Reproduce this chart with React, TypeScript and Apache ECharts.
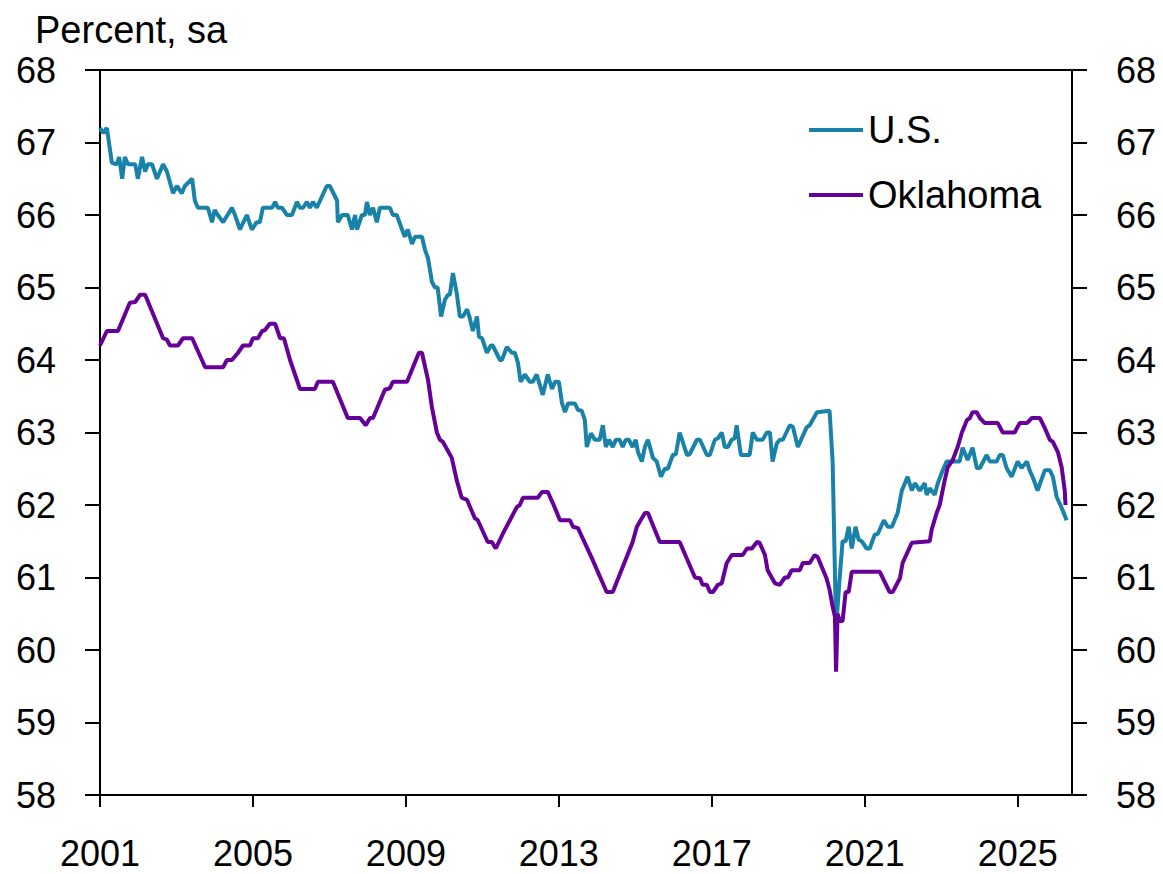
import React, { useEffect, useRef } from "react";
import * as echarts from "echarts";

// x = decimal year, y = participation rate (percent, sa)
const usYears = [2001.0,2001.08,2001.18,2001.31,2001.44,2001.5,2001.58,2001.65,2001.73,2001.92,2001.99,2002.1,2002.18,2002.25,2002.36,2002.49,2002.65,2002.75,2002.91,2003.01,2003.14,2003.22,2003.41,2003.48,2003.56,2003.82,2003.93,2004.0,2004.08,2004.22,2004.45,2004.53,2004.66,2004.84,2004.97,2005.1,2005.18,2005.26,2005.5,2005.58,2005.65,2005.76,2005.89,2006.02,2006.15,2006.23,2006.31,2006.41,2006.49,2006.57,2006.67,2006.93,2007.01,2007.2,2007.22,2007.33,2007.48,2007.59,2007.67,2007.72,2007.85,2007.93,2007.98,2008.06,2008.14,2008.24,2008.32,2008.58,2008.66,2008.76,2008.97,2009.05,2009.16,2009.24,2009.42,2009.5,2009.58,2009.68,2009.76,2009.83,2009.92,2010.02,2010.1,2010.15,2010.23,2010.33,2010.41,2010.49,2010.6,2010.67,2010.75,2010.86,2010.91,2010.99,2011.12,2011.22,2011.27,2011.46,2011.51,2011.64,2011.77,2011.85,2011.93,2012.0,2012.11,2012.24,2012.32,2012.42,2012.58,2012.71,2012.82,2012.9,2013.0,2013.08,2013.16,2013.24,2013.42,2013.5,2013.6,2013.68,2013.73,2013.84,2013.94,2014.07,2014.15,2014.23,2014.31,2014.41,2014.49,2014.59,2014.67,2014.75,2014.83,2014.93,2015.01,2015.07,2015.17,2015.25,2015.33,2015.46,2015.56,2015.67,2015.77,2015.85,2015.98,2016.06,2016.16,2016.35,2016.42,2016.61,2016.69,2016.87,2016.95,2017.08,2017.16,2017.26,2017.34,2017.42,2017.52,2017.6,2017.65,2017.76,2017.99,2018.07,2018.18,2018.33,2018.44,2018.52,2018.59,2018.7,2018.78,2018.86,2019.04,2019.12,2019.25,2019.48,2019.56,2019.75,2020.08,2020.16,2020.25,2020.33,2020.42,2020.5,2020.58,2020.66,2020.76,2020.84,2020.92,2021.05,2021.13,2021.26,2021.34,2021.5,2021.6,2021.71,2021.86,2021.97,2022.12,2022.23,2022.31,2022.44,2022.57,2022.62,2022.7,2022.83,2022.91,2023.04,2023.14,2023.48,2023.56,2023.69,2023.82,2023.93,2024.01,2024.19,2024.27,2024.45,2024.53,2024.61,2024.71,2024.84,2025.0,2025.1,2025.24,2025.31,2025.39,2025.52,2025.71,2025.84,2025.92,2026.02,2026.15,2026.28];
const usValues = [67.2,67.13,67.2,66.72,66.7,66.8,66.5,66.8,66.7,66.7,66.5,66.8,66.6,66.7,66.7,66.5,66.7,66.6,66.3,66.4,66.3,66.4,66.5,66.2,66.1,66.1,65.9,66.07,66.0,65.9,66.1,66.0,65.8,66.0,65.8,65.9,65.9,66.1,66.1,66.18,66.1,66.1,66.0,66.0,66.18,66.1,66.1,66.18,66.1,66.18,66.1,66.4,66.4,66.2,65.9,66.0,66.0,65.8,66.0,65.8,66.0,66.0,66.18,66.0,66.1,65.9,66.1,66.1,66.0,66.0,65.7,65.8,65.6,65.7,65.7,65.52,65.4,65.08,65.0,65.0,64.6,64.83,64.9,64.9,65.2,64.92,64.6,64.6,64.7,64.58,64.4,64.6,64.32,64.3,64.1,64.2,64.2,64.0,64.0,64.18,64.1,64.1,63.96,63.7,63.8,63.7,63.7,63.8,63.52,63.8,63.6,63.7,63.7,63.41,63.28,63.4,63.4,63.31,63.3,63.17,62.8,62.99,62.9,62.9,63.1,62.8,62.9,62.8,62.9,62.9,62.8,62.9,62.9,62.8,62.9,62.73,62.6,62.8,62.9,62.65,62.6,62.39,62.5,62.5,62.69,62.7,63.0,62.69,62.7,62.9,62.9,62.69,62.69,62.9,62.92,63.0,62.8,62.8,62.9,62.92,63.1,62.69,62.69,63.0,62.9,62.9,63.0,63.0,62.6,62.85,62.9,62.9,63.1,63.08,62.8,63.07,63.1,63.28,63.3,62.6,60.3,60.9,61.5,61.5,61.7,61.4,61.7,61.52,61.5,61.4,61.4,61.59,61.6,61.79,61.7,61.7,61.89,62.2,62.39,62.2,62.3,62.2,62.3,62.14,62.23,62.14,62.3,62.48,62.6,62.6,62.79,62.62,62.79,62.51,62.51,62.69,62.6,62.6,62.69,62.69,62.51,62.39,62.6,62.51,62.6,62.48,62.39,62.2,62.48,62.48,62.39,62.11,61.96,61.79];

const okYears = [2001.0,2001.18,2001.47,2001.78,2001.92,2002.05,2002.18,2002.65,2002.75,2002.83,2003.04,2003.17,2003.41,2003.75,2004.22,2004.32,2004.45,2004.61,2004.74,2004.92,2005.0,2005.13,2005.24,2005.31,2005.44,2005.58,2005.71,2005.81,2005.97,2006.1,2006.23,2006.62,2006.7,2007.09,2007.48,2007.8,2007.95,2008.06,2008.14,2008.45,2008.58,2008.66,2009.03,2009.34,2009.42,2009.58,2009.68,2009.81,2009.89,2009.97,2010.2,2010.33,2010.46,2010.6,2010.8,2010.88,2011.14,2011.25,2011.35,2011.54,2011.9,2011.98,2012.06,2012.45,2012.56,2012.71,2012.84,2013.03,2013.29,2013.37,2013.5,2013.86,2014.25,2014.41,2014.93,2015.04,2015.25,2015.33,2015.64,2016.16,2016.56,2016.69,2016.76,2016.87,2016.95,2017.03,2017.16,2017.26,2017.39,2017.52,2017.81,2017.92,2018.05,2018.18,2018.25,2018.39,2018.46,2018.65,2018.78,2018.91,2018.99,2019.09,2019.3,2019.38,2019.56,2019.69,2019.77,2020.0,2020.08,2020.16,2020.22,2020.25,2020.29,2020.35,2020.42,2020.5,2020.58,2020.66,2021.39,2021.65,2021.73,2021.92,2021.99,2022.23,2022.7,2022.75,2022.88,2022.96,2023.09,2023.17,2023.3,2023.43,2023.54,2023.67,2023.75,2023.82,2023.93,2024.01,2024.14,2024.48,2024.61,2024.92,2025.05,2025.24,2025.37,2025.58,2025.71,2025.84,2025.92,2026.05,2026.15,2026.23,2026.25];
const okValues = [64.2,64.4,64.4,64.79,64.8,64.9,64.9,64.3,64.28,64.2,64.2,64.3,64.3,63.9,63.9,64.0,64.0,64.1,64.2,64.2,64.3,64.3,64.4,64.41,64.5,64.5,64.3,64.3,64.0,63.8,63.6,63.6,63.7,63.7,63.2,63.2,63.1,63.2,63.2,63.59,63.61,63.7,63.7,64.1,64.1,63.72,63.35,63.0,62.9,62.87,62.65,62.34,62.1,62.07,61.82,61.79,61.49,61.49,61.4,61.61,61.97,62.0,62.1,62.1,62.18,62.18,62.03,61.79,61.79,61.7,61.68,61.27,60.8,60.8,61.49,61.7,61.89,61.89,61.49,61.49,61.0,60.99,60.9,60.9,60.8,60.8,60.9,60.92,61.2,61.31,61.31,61.4,61.4,61.49,61.48,61.31,61.1,60.92,60.9,61.0,61.0,61.1,61.1,61.2,61.2,61.31,61.28,60.99,60.83,60.6,60.46,59.7,60.5,60.4,60.4,60.8,60.8,61.08,61.08,60.8,60.8,60.99,61.2,61.48,61.5,61.66,61.89,62.0,62.34,62.52,62.62,62.8,63.0,63.17,63.2,63.28,63.28,63.2,63.13,63.13,63.0,63.0,63.13,63.13,63.2,63.2,63.06,62.9,62.87,62.73,62.52,62.2,62.0];

const seriesNames = ["U.S.", "Oklahoma"];
const seriesColors = ["#1882A8", "#660099"];
const baseYear = 2001;
const xTickYears = [2001, 2005, 2009, 2013, 2017, 2021, 2025];
const yMin = 58;
const yMax = 68;
const xMaxYear = 2026.42;

const toPairs = (xs: number[], ys: number[]) => xs.map((x, i) => [x - baseYear, ys[i]]);

export default function App() {
  const ref = useRef<HTMLDivElement>(null);
  useEffect(() => {
    if (!ref.current) return;
    const chart = echarts.init(ref.current, null, { renderer: "svg" });
    const font = "Liberation Sans, Arial, sans-serif";
    const tickOffsets = xTickYears.map((y) => y - baseYear);
    const yAxisBase = {
      type: "value",
      min: yMin,
      max: yMax,
      interval: 1,
      axisLine: { show: true, lineStyle: { color: "#000", width: 2 } },
      axisTick: { show: true, inside: false, length: 15, lineStyle: { color: "#000", width: 2 } },
      axisLabel: { color: "#000", fontSize: 36, fontFamily: font, margin: 44 },
      splitLine: { show: false },
    };
    chart.setOption({
      animation: false,
      backgroundColor: "#fff",
      title: {
        text: "Percent, sa",
        left: 30,
        top: 6,
        textStyle: { fontSize: 38, fontWeight: "normal", color: "#000", fontFamily: font },
      },
      legend: {
        orient: "vertical",
        left: 804,
        top: 106,
        itemWidth: 54,
        itemHeight: 4,
        itemGap: 27,
        icon: "rect",
        textStyle: { fontSize: 38, color: "#000", fontFamily: font },
        data: seriesNames,
      },
      grid: {
        left: 100,
        right: 91,
        top: 70,
        bottom: 79,
        show: true,
        borderColor: "#000",
        borderWidth: 2,
      },
      xAxis: {
        type: "value",
        min: 0,
        max: xMaxYear - baseYear,
        axisLine: { show: true, lineStyle: { color: "#000", width: 2 } },
        axisTick: { show: true, customValues: tickOffsets, length: 12, lineStyle: { color: "#000", width: 2 } },
        axisLabel: {
          customValues: tickOffsets,
          color: "#000",
          fontSize: 36,
          lineHeight: 36,
          fontFamily: font,
          margin: 40,
          formatter: (v: number) => String(Math.round(v + baseYear)),
        },
        splitLine: { show: false },
      },
      yAxis: [
        { ...yAxisBase, position: "left" },
        { ...yAxisBase, position: "right" },
      ],
      series: [
        {
          name: seriesNames[0],
          type: "line",
          data: toPairs(usYears, usValues),
          symbol: "none",
          lineStyle: { color: seriesColors[0], width: 4 },
          itemStyle: { color: seriesColors[0] },
          z: 3,
        },
        {
          name: seriesNames[1],
          type: "line",
          data: toPairs(okYears, okValues),
          symbol: "none",
          lineStyle: { color: seriesColors[1], width: 4 },
          itemStyle: { color: seriesColors[1] },
          z: 4,
        },
      ],
    });
    return () => chart.dispose();
  }, []);
  return <div ref={ref} style={{ position: "absolute", left: 0, top: 0, width: 1163, height: 874 }} />;
}
